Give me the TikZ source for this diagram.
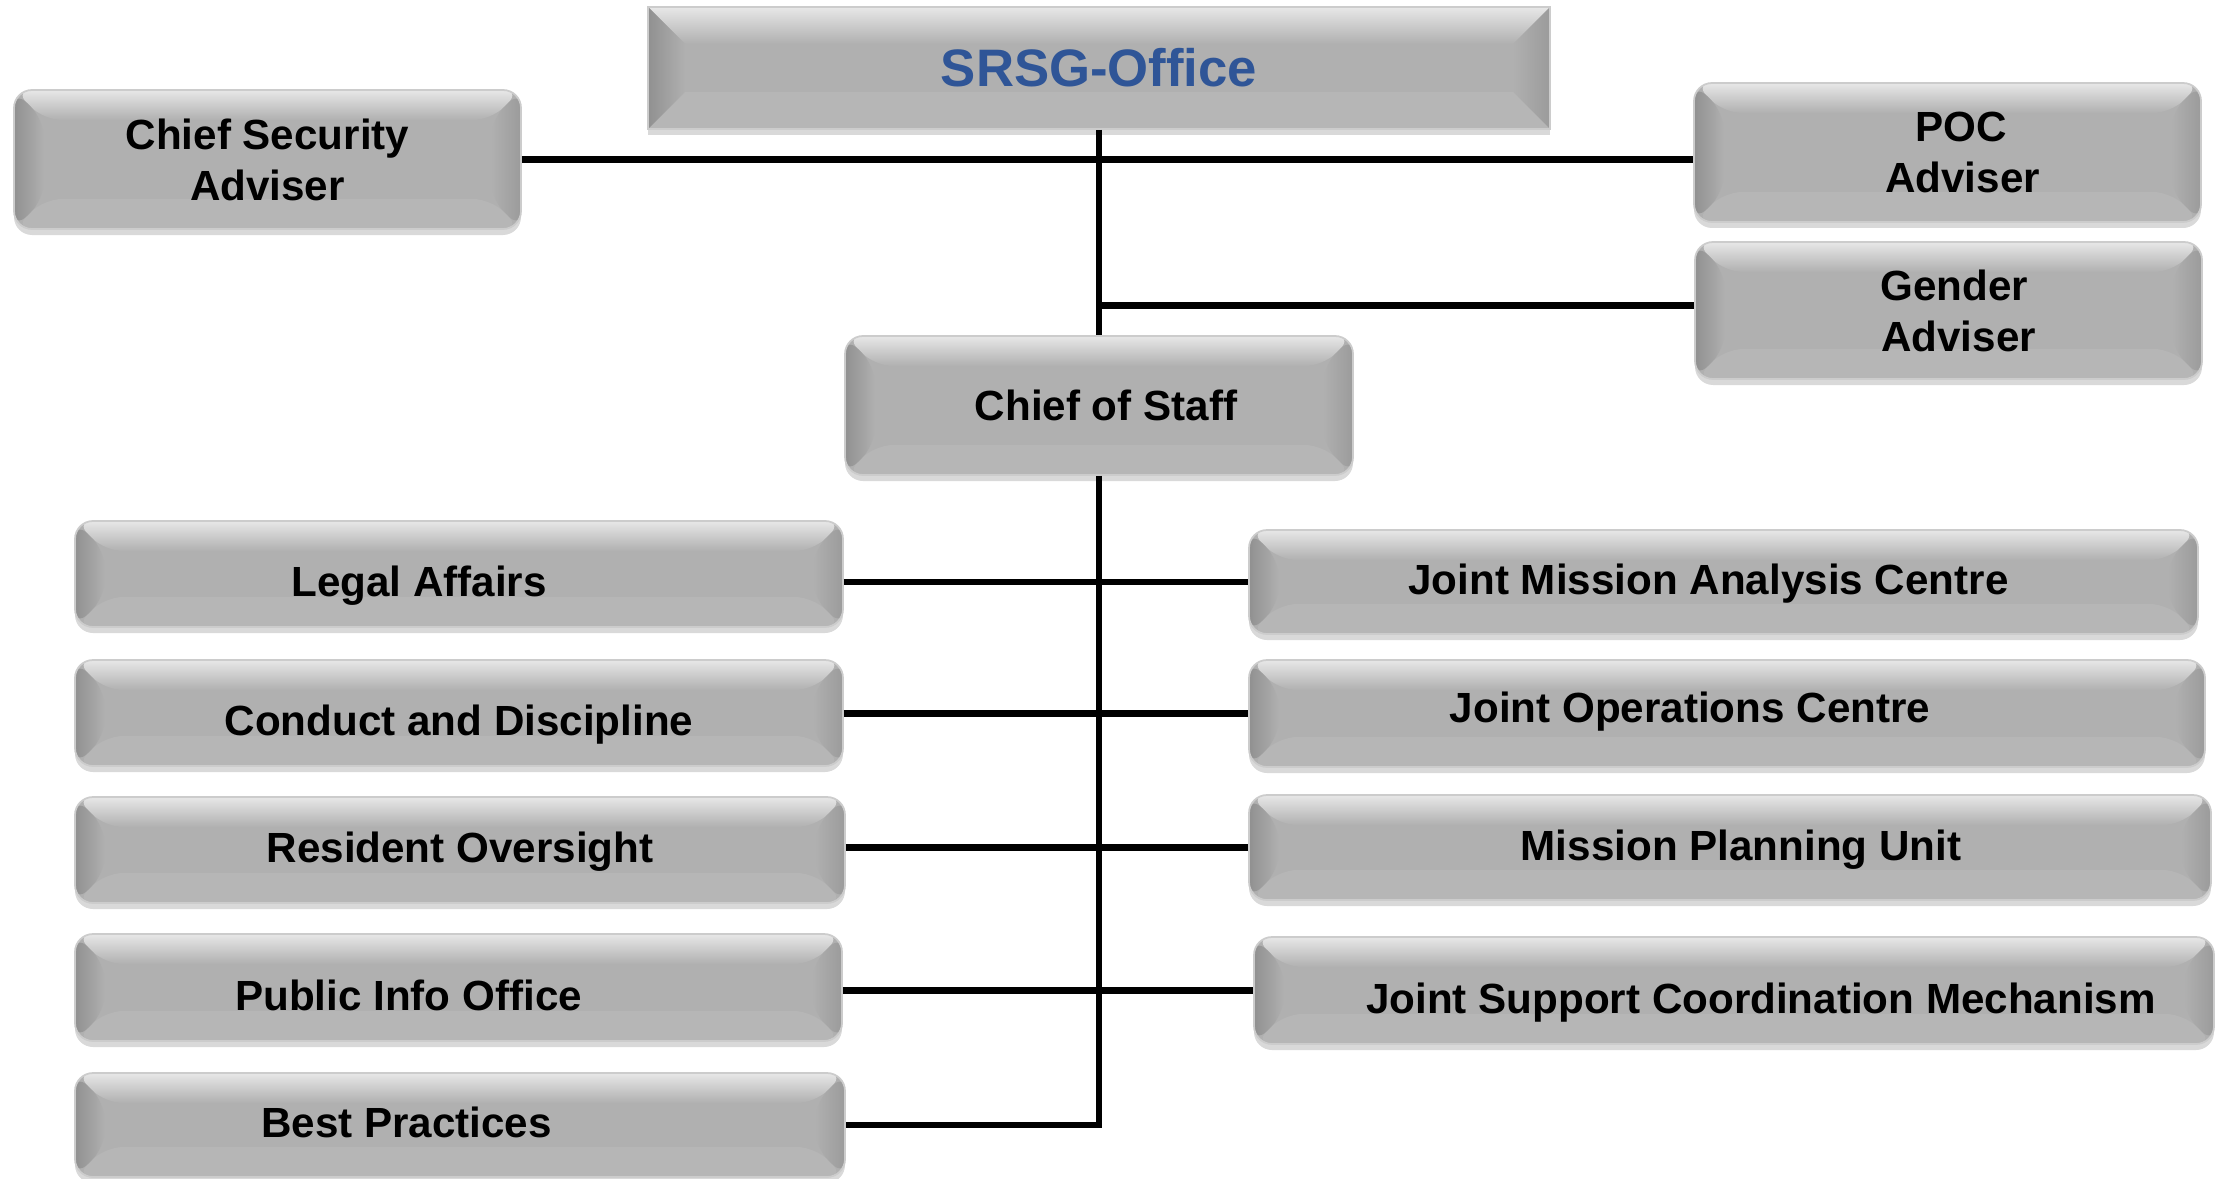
\documentclass[tikz,border=0pt]{standalone}
\usepackage{fontspec}
\setmainfont{Liberation Sans}
\usetikzlibrary{shadows}
\definecolor{boxgray}{RGB}{176,176,176}
\definecolor{srsgblue}{RGB}{47,85,151}

\begin{document}
\begin{tikzpicture}[
				bevel/.style={path picture={
					\coordinate (nw) at (path picture bounding box.north west);
					\coordinate (ne) at (path picture bounding box.north east);
					\coordinate (sw) at (path picture bounding box.south west);
					\coordinate (se) at (path picture bounding box.south east);
					\shade[top color=white!70!boxgray, bottom color=boxgray] (nw) -- (ne) -- ([shift={(-#1,-#1)}]ne) -- ([shift={(#1,-#1)}]nw) -- cycle;
					\shade[left color=boxgray!82!black, right color=boxgray] (nw) -- ([shift={(#1,-#1)}]nw) -- ([shift={(#1,#1)}]sw) -- (sw) -- cycle;
					\shade[left color=boxgray, right color=boxgray!88!black] (ne) -- ([shift={(-#1,-#1)}]ne) -- ([shift={(-#1,#1)}]se) -- (se) -- cycle;
					\fill[white,opacity=.08] (sw) -- (se) -- ([shift={(-#1,#1)}]se) -- ([shift={(#1,#1)}]sw) -- cycle;
				}},
				unit/.style={draw=white!80!black, line width=.5pt, fill=boxgray,
					rounded corners=.18cm, bevel=.3cm, inner sep=0pt,
					drop shadow={shadow xshift=0cm, shadow yshift=-.06cm, opacity=.3},
					font=\bfseries\fontsize{12}{14.5}\selectfont},
				one/.style={unit, text height=8.7pt, text depth=1.5pt},
				low/.style={text height=14.4pt},
				high/.style={text depth=3.7pt},
				link/.style={line width=1.9pt}]
				\useasboundingbox (0,0) rectangle (22.15,-11.78);
				% top
				\node[unit, sharp corners, bevel=.37cm, minimum width=9.02cm, minimum height=1.22cm,
					font=\bfseries\fontsize{15}{18}\selectfont, text=srsgblue] (srsg) at (10.99,-0.68) {SRSG-Office};
				\node[unit, align=center, minimum width=5.07cm, minimum height=1.39cm] (csa) at (2.675,-1.595) {Chief Security\\Adviser};
				\node[unit, align=center, minimum width=5.07cm, minimum height=1.39cm] (poc) at (19.475,-1.525) {\hspace*{.28cm}POC\\\hspace*{.3cm}Adviser};
				\node[unit, align=center, minimum width=5.07cm, minimum height=1.37cm] (gender) at (19.485,-3.105) {\hspace*{.12cm}Gender\\\hspace*{.2cm}Adviser};
				\node[one, minimum width=5.08cm, minimum height=1.39cm, text height=10pt] (cos) at (10.99,-4.055) {\hspace{.14cm}Chief of Staff};
				% left
				\node[one, low, minimum width=7.68cm, minimum height=1.06cm] (legal) at (4.59,-5.74) {Legal Affairs\hspace{.8cm}\mbox{}};
				\node[one, low, minimum width=7.68cm, minimum height=1.06cm] (conduct) at (4.59,-7.13) {Conduct and Discipline};
				\node[one, minimum width=7.70cm, minimum height=1.06cm] (resident) at (4.60,-8.50) {Resident Oversight};
				\node[one, low, minimum width=7.67cm, minimum height=1.07cm] (public) at (4.585,-9.875) {Public Info Office\hspace{1cm}\mbox{}};
				\node[one, minimum width=7.70cm, minimum height=1.04cm] (best) at (4.60,-11.25) {Best Practices\hspace{1.07cm}\mbox{}};
				% right
				\node[one, minimum width=9.49cm, minimum height=1.04cm] (jmac) at (17.235,-5.82) {Joint Mission Analysis Centre\hspace{.3cm}\mbox{}};
				\node[one, high, minimum width=9.56cm, minimum height=1.07cm] (joc) at (17.27,-7.135) {Joint Operations Centre\hspace{.74cm}\mbox{}};
				\node[one, minimum width=9.62cm, minimum height=1.05cm] (mpu) at (17.30,-8.475) {\hspace{.22cm}Mission Planning Unit};
				\node[one, low, minimum width=9.60cm, minimum height=1.07cm] (jscm) at (17.34,-9.905) {\hspace{.54cm}Joint Support Coordination Mechanism};
				% links
				\draw[link] (srsg.south) -- (cos.north);
				\draw[link] (cos.south) -- (cos.south |- best.east) -- (best.east);
				\draw[link] (csa.east) -- (csa.east -| poc.west);
				\draw[link] ([yshift=.05cm]gender.west) -- ([yshift=.05cm]gender.west -| srsg.south);
				\draw[link] (jmac.west -| legal.east) -- (jmac.west);
				\draw[link] (joc.west -| conduct.east) -- (joc.west);
				\draw[link] (mpu.west -| resident.east) -- (mpu.west);
				\draw[link] (jscm.west -| public.east) -- (jscm.west);
			\end{tikzpicture}
\end{document}
